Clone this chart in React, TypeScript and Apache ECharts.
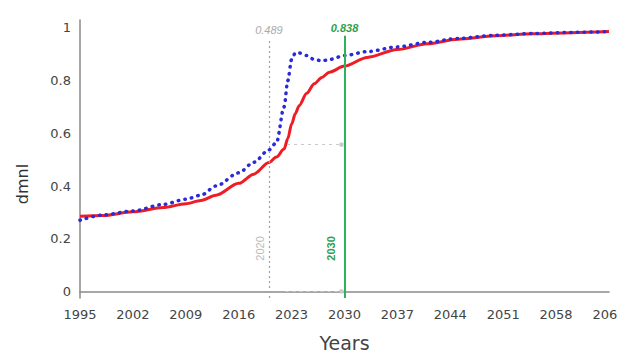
import React, { useEffect, useRef } from "react";
import * as echarts from "echarts";

const years = [1995, 1998, 2002, 2006, 2009, 2011, 2013, 2016, 2018, 2020, 2021, 2022, 2022.5, 2023, 2023.5, 2024, 2025, 2026, 2027, 2028, 2030, 2033, 2037, 2041, 2045, 2050, 2055, 2060, 2065];
const redValues = [0.285, 0.288, 0.302, 0.318, 0.333, 0.345, 0.365, 0.41, 0.445, 0.489, 0.51, 0.54, 0.58, 0.635, 0.675, 0.705, 0.752, 0.788, 0.812, 0.832, 0.855, 0.888, 0.918, 0.94, 0.957, 0.97, 0.978, 0.982, 0.986];
const blueValues = [0.27, 0.29, 0.305, 0.33, 0.35, 0.365, 0.4, 0.45, 0.49, 0.537, 0.565, 0.7, 0.8, 0.88, 0.905, 0.905, 0.895, 0.88, 0.875, 0.88, 0.895, 0.91, 0.928, 0.945, 0.96, 0.972, 0.979, 0.983, 0.986];

const markerYear = 2020;
const targetYear = 2030;
const markerValueLabel = "0.489";
const targetValueLabel = "0.838";
const guideLevel = 0.557;

const FONT = "'Liberation Sans', Arial, sans-serif";
const WIDE = "'DejaVu Sans', sans-serif";

export default function App() {
  const ref = useRef<HTMLDivElement>(null);
  useEffect(() => {
    if (!ref.current) return;
    const chart = echarts.init(ref.current, null, { renderer: "svg" });
    chart.setOption({
      animation: false,
      textStyle: { fontFamily: FONT },
      grid: { left: 80, right: 9, top: 20, bottom: 56, containLabel: false, outerBoundsMode: "none" },
      xAxis: {
        type: "value",
        min: 1995,
        max: 2065,
        interval: 7,
        name: "Years",
        nameLocation: "middle",
        nameGap: 35,
        nameTextStyle: { fontSize: 19, color: "#444", fontFamily: WIDE },
        axisLine: { show: true, lineStyle: { color: "#8a8a8a", width: 1.5 } },
        axisTick: { show: false },
        splitLine: { show: false },
        axisLabel: { fontSize: 13, color: "#444", margin: 10, fontFamily: WIDE, formatter: (v: number) => String(Math.round(v)) },
      },
      yAxis: {
        type: "value",
        min: -0.025,
        max: 1.03,
        interval: 0.025,
        name: "dmnl",
        nameLocation: "middle",
        nameGap: 50,
        nameRotate: 90,
        nameTextStyle: { fontSize: 16, color: "#333", fontFamily: WIDE, padding: [0, 50, 0, 0] },
        axisLine: { show: true, lineStyle: { color: "#8a8a8a", width: 1.5 } },
        axisTick: { show: false },
        splitLine: { show: false },
        axisLabel: {
          fontSize: 13,
          color: "#444",
          margin: 9,
          fontFamily: WIDE,
          formatter: (v: number) => {
            const r = Math.round(v * 1000) / 1000;
            if (r < 0) return "";
            return Math.abs(r * 5 - Math.round(r * 5)) < 1e-6 ? String(r) : "";
          },
        },
      },
      series: [
        {
          type: "line",
          data: years.map((y, i) => [y, redValues[i]]),
          smooth: 0.3,
          smoothMonotone: "x",
          symbol: "none",
          lineStyle: { color: "#ee1c25", width: 3 },
          z: 3,
          markLine: {
            silent: true,
            symbol: ["none", "none"],
            data: [
              [
                { coord: [markerYear, -0.025], lineStyle: { color: "#a0a0a0", width: 1.2, type: [2, 3] } },
                {
                  coord: [markerYear, 0.955],
                  label: { show: true, position: "end", formatter: markerValueLabel, color: "#aaa", fontStyle: "italic", fontSize: 11, distance: 4 },
                },
              ],
              [
                { coord: [targetYear, -0.025], lineStyle: { color: "#2fb35a", width: 2, type: "solid" } },
                {
                  coord: [targetYear, 0.97],
                  label: { show: true, position: "end", formatter: targetValueLabel, color: "#2fa050", fontStyle: "italic", fontWeight: "bold", fontSize: 11, distance: 2 },
                },
              ],
              [
                { coord: [2022.4, guideLevel], lineStyle: { color: "#c8c8c8", width: 1.2, type: [3, 4] } },
                { coord: [2029.6, guideLevel], symbol: "rect", symbolSize: 4, label: { show: false } },
              ],
              [
                { coord: [2022.2, 0], lineStyle: { color: "#c8c8c8", width: 1.2, type: [3, 4] } },
                { coord: [2029.6, 0], symbol: "rect", symbolSize: 4, label: { show: false } },
              ],
            ],
            label: { show: false },
            itemStyle: { color: "#999" },
          },
          markPoint: {
            silent: true,
            symbolSize: 0,
            data: [
              {
                coord: [markerYear - 1.2, 0.163],
                label: { show: true, position: "inside", formatter: String(markerYear), rotate: 90, color: "#bbb", fontSize: 11 },
              },
              {
                coord: [targetYear - 1.75, 0.163],
                label: { show: true, position: "inside", formatter: String(targetYear), rotate: 90, color: "#2fa050", fontWeight: "bold", fontSize: 11 },
              },
            ],
          },
        },
        {
          type: "line",
          data: years.map((y, i) => [y, blueValues[i]]),
          smooth: 0.3,
          smoothMonotone: "x",
          symbol: "none",
          lineStyle: { color: "#2a2ad8", width: 3.5, type: [0.5, 6.2], cap: "round" },
          z: 4,
        },
      ],
    });
    return () => chart.dispose();
  }, []);
  return <div ref={ref} style={{ width: 618, height: 354, position: "absolute", left: 0, top: 0 }} />;
}
